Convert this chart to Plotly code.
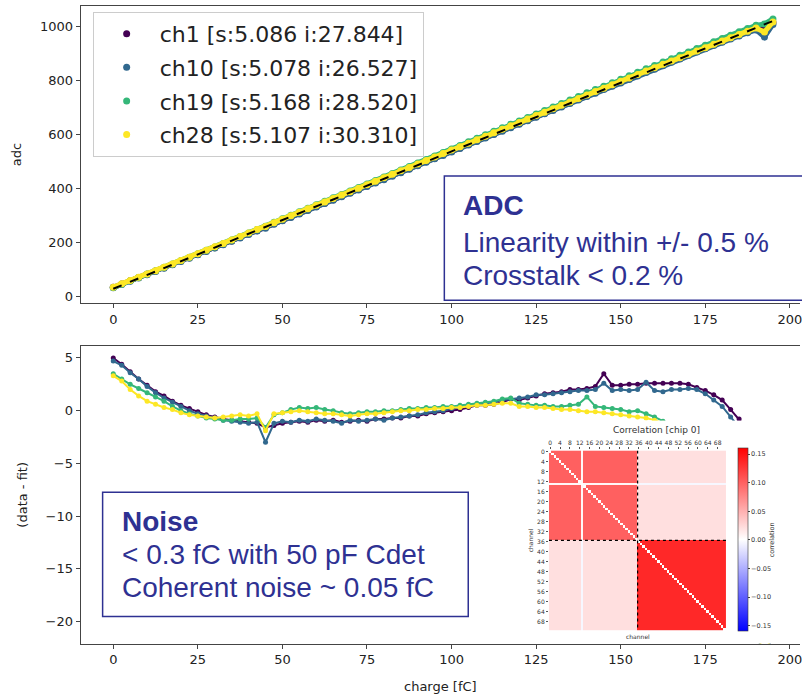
import numpy as np
import plotly.graph_objects as go

# ---------------- data ----------------
charge = np.arange(0, 195.01, 2.5)  # fC, sampling grid (79 points)

labels = ["ch1 [s:5.086 i:27.844]", "ch10 [s:5.078 i:26.527]",
          "ch19 [s:5.168 i:28.520]", "ch28 [s:5.107 i:30.310]"]
slopes = [5.086, 5.078, 5.168, 5.107]
intercepts = [27.844, 26.527, 28.520, 30.310]
colors = ["#440154", "#31688e", "#35b779", "#fde725"]

# residuals (data - fit), one value per charge step
res_ch1 = [5.0, 4.4, 3.7, 3.0, 2.4, 1.8, 1.4, 0.9, 0.5, 0.2,
           -0.1, -0.4, -0.6, -0.8, -0.9, -1.0, -1.1, -1.2, -1.6, -1.4,
           -1.2, -1.1, -1.0, -1.1, -0.9, -1.0, -0.9, -1.1, -1.0, -0.9,
           -1.0, -0.8, -0.8, -0.7, -0.7, -0.5, -0.5, -0.3, -0.2, -0.1,
           0.0, 0.1, 0.3, 0.5, 0.5, 0.6, 0.8, 1.1, 1.0, 1.2,
           1.4, 1.6, 1.7, 1.8, 2.0, 2.0, 2.1, 2.3, 3.5, 2.4,
           2.4, 2.5, 2.5, 2.6, 2.6, 2.6, 2.6, 2.6, 2.5, 2.2,
           1.9, 1.5, 1.0, 0.1, -0.8, -1.8, -3.5, -8.0, -6.0]
res_ch10 = [4.7, 4.3, 3.6, 3.0, 2.3, 1.7, 1.2, 0.8, 0.4, 0.0,
            -0.3, -0.5, -0.7, -0.9, -1.0, -1.1, -1.2, -1.1, -3.0, -1.2,
            -1.0, -1.1, -0.9, -1.0, -0.8, -0.9, -1.0, -1.2, -0.9, -1.0,
            -0.9, -0.8, -0.9, -0.7, -0.6, -0.5, -0.4, -0.2, -0.1, 0.0,
            0.2, 0.3, 0.5, 0.6, 0.7, 0.8, 1.0, 1.1, 1.2, 1.3,
            1.5, 1.5, 1.6, 1.7, 1.8, 1.9, 1.9, 2.0, 2.6, 1.9,
            2.0, 1.9, 2.0, 2.7, 1.9, 1.8, 2.0, 2.0, 2.1, 2.0,
            1.6, 1.0, 0.4, -0.6, -1.6, -3.0, -5.0, -44.0, -10.0]
res_ch19 = [3.5, 3.0, 2.5, 2.1, 1.7, 1.3, 0.9, 0.4, 0.0, -0.3,
            -0.5, -0.7, -0.8, -0.9, -0.9, -0.8, -0.8, -0.7, -1.6, -0.4,
            -0.2, 0.1, 0.3, 0.2, 0.3, 0.1, 0.0, -0.2, -0.3, -0.2,
            -0.1, -0.1, 0.0, 0.0, 0.1, 0.2, 0.2, 0.3, 0.3, 0.4,
            0.4, 0.5, 0.6, 0.7, 0.8, 0.9, 1.1, 1.2, 0.7, 0.6,
            0.5, 0.5, 0.4, 0.4, 0.5, 0.6, 1.3, 0.4, 0.3, 0.2,
            0.1, -0.1, 0.0, -0.3, -0.6, -1.0, -1.4, -1.8, -2.2, -2.6,
            -3.0, -3.5, -4.0, -4.6, -5.2, -6.0, -7.0, -15.0, -9.0]
res_ch28 = [3.3, 2.8, 2.0, 1.4, 0.9, 0.6, 0.3, 0.1, -0.2, -0.4,
            -0.5, -0.6, -0.7, -0.6, -0.5, -0.4, -0.5, -0.3, -1.9, -0.3,
            -0.2, -0.1, 0.0, -0.1, -0.2, -0.3, -0.3, -0.4, -0.5, -0.4,
            -0.3, -0.3, -0.2, -0.1, 0.0, 0.0, 0.1, 0.1, 0.2, 0.2,
            0.3, 0.3, 0.4, 0.5, 0.5, 0.6, 0.7, 0.7, 0.4, 0.4,
            0.3, 0.3, 0.2, 0.1, 0.1, 0.0, -0.1, -0.1, -0.2, -0.3,
            -0.4, -0.5, -0.6, -0.7, -0.9, -1.2, -1.6, -2.0, -2.4, -2.8,
            -3.2, -3.7, -4.2, -4.8, -5.4, -6.2, -7.5, -35.0, -10.0]
residuals = [res_ch1, res_ch10, res_ch19, res_ch28]

fit_range = [0, 195]

x_ticks = [0, 25, 50, 75, 100, 125, 150, 175, 200]
adc_ticks = [0, 200, 400, 600, 800, 1000]
res_ticks = [-20, -15, -10, -5, 0, 5]

# correlation inset (chip 0): block levels
n_channels = 72
half = 36
dead_channel = 13
level_first_half = 0.10
level_second_half = 0.135
level_cross = 0.02
level_dead_in = 0.005
level_dead_cross = -0.005
corr_ticks = list(range(0, 69, 4))
cbar_ticks = [-0.15, -0.10, -0.05, 0.0, 0.05, 0.10, 0.15]
cbar_text = ["\u22120.15", "\u22120.10", "\u22120.05", "0.00", "0.05", "0.10", "0.15"]

adc_box_lines = ["<b>ADC</b>", "Linearity within +/- 0.5 %", "Crosstalk < 0.2 %"]
noise_box_lines = ["<b>Noise</b>", "< 0.3 fC with 50 pF Cdet", "Coherent noise ~ 0.05 fC"]

# ---------------- build ----------------
ch = np.arange(n_channels)
first = ch < half
z = np.full((n_channels, n_channels), level_cross)
z[np.ix_(first, first)] = level_first_half
z[np.ix_(~first, ~first)] = level_second_half
z[dead_channel, :] = np.where(first, level_dead_in, level_dead_cross)
z[:, dead_channel] = np.where(first, level_dead_in, level_dead_cross)
zl = [[None if i == j else float(z[i, j]) for j in range(n_channels)] for i in range(n_channels)]

FONT = "DejaVu Sans"
AX = "#444444"
TXT = "#222222"
BLUE = "#2e3192"

fig = go.Figure()

for k in range(4):
    adc = slopes[k] * charge + intercepts[k] + np.array(residuals[k])
    fig.add_trace(go.Scatter(x=charge, y=adc, mode="lines+markers",
                             line=dict(color=colors[k], width=5),
                             marker=dict(color=colors[k], size=7),
                             showlegend=False, hoverinfo="skip",
                             xaxis="x", yaxis="y"))

fig.add_trace(go.Scatter(x=fit_range, y=[slopes[0] * q + intercepts[0] for q in fit_range],
                         mode="lines", line=dict(color="black", width=2, dash="dash"),
                         showlegend=False, xaxis="x", yaxis="y"))

for k in range(4):
    fig.add_trace(go.Scatter(x=[None], y=[None], mode="markers",
                             marker=dict(color=colors[k], size=7),
                             name=labels[k], legendgroup="g%d" % k,
                             xaxis="x", yaxis="y"))

for k in range(4):
    fig.add_trace(go.Scatter(x=charge, y=residuals[k], mode="lines+markers",
                             line=dict(color=colors[k], width=2),
                             marker=dict(color=colors[k], size=5),
                             showlegend=False, hoverinfo="skip",
                             xaxis="x2", yaxis="y2"))

# white backdrop subplot for the inset
fig.add_trace(go.Scatter(x=[None], y=[None], showlegend=False, xaxis="x3", yaxis="y3"))

bwr = [[0, "rgb(0,0,255)"], [0.5, "rgb(255,255,255)"], [1, "rgb(255,0,0)"]]
fig.add_trace(go.Heatmap(z=zl, x=ch, y=ch, xaxis="x4", yaxis="y4",
                         colorscale=bwr, zmin=-0.16, zmax=0.16,
                         colorbar=dict(x=740 / 802, xanchor="left", y=1 - 540 / 698,
                                       yanchor="middle", len=184 / 698, lenmode="fraction",
                                       thickness=10, xpad=0, ypad=0,
                                       tickvals=cbar_ticks, ticktext=cbar_text,
                                       tickfont=dict(size=6.5, color="#333", family=FONT),
                                       ticks="outside", ticklen=2, outlinewidth=0.6,
                                       outlinecolor="#333",
                                       title=dict(text="correlation", side="right",
                                                  font=dict(size=6.5, color="#333", family=FONT)))))

common = dict(showgrid=False, zeroline=False, showline=True, linecolor=AX, linewidth=1.2,
              ticks="outside", ticklen=4, tickcolor=AX, ticklabeloverflow="allow",
              tickfont=dict(family=FONT, size=13, color=TXT))

fig.update_layout(
    width=802, height=698, margin=dict(l=0, r=0, t=0, b=0),
    paper_bgcolor="white", plot_bgcolor="white",
    font=dict(family=FONT, color=TXT),
    xaxis=dict(domain=[80 / 802, 1], range=[-9.63, 203.0], anchor="y", mirror=True,
               tickvals=x_ticks, **common),
    yaxis=dict(domain=[1 - 301.7 / 698, 1 - 3.3 / 698], range=[-25, 1074], anchor="x",
               tickvals=adc_ticks, title=dict(text="adc", font=dict(size=13, family=FONT)),
               **common),
    xaxis2=dict(domain=[80 / 802, 1], range=[-9.63, 203.0], anchor="y2", mirror=True,
                tickvals=x_ticks, title=dict(text="charge [fC]", font=dict(size=13, family=FONT)),
                **common),
    yaxis2=dict(domain=[1 - 644.3 / 698, 1 - 345 / 698], range=[-22.1, 6.13], anchor="x2",
                tickvals=res_ticks, title=dict(text="(data - fit)", font=dict(size=13, family=FONT)),
                **common),
    xaxis3=dict(domain=[518 / 802, 801 / 802], range=[0, 1], anchor="y3", visible=False),
    yaxis3=dict(domain=[1 - 644 / 698, 1 - 420 / 698], range=[0, 1], anchor="x3", visible=False),
    xaxis4=dict(domain=[550 / 802, 728 / 802], range=[-0.5, n_channels - 0.5], anchor="y4",
                side="top", tickvals=corr_ticks, tickangle=0, showgrid=False, zeroline=False,
                ticks="outside", ticklen=2, tickcolor="#555",
                tickfont=dict(size=6, color="#333", family=FONT)),
    yaxis4=dict(domain=[1 - 631 / 698, 1 - 450 / 698], range=[n_channels - 0.5, -0.5], anchor="x4",
                tickvals=corr_ticks, showgrid=False, zeroline=False,
                ticks="outside", ticklen=2, tickcolor="#555",
                tickfont=dict(size=6, color="#333", family=FONT),
                title=dict(text="channel", font=dict(size=6, color="#333", family=FONT), standoff=2)),
    legend=dict(x=92 / 802, y=1 - 9 / 698, xanchor="left", yanchor="top",
                bgcolor="rgba(255,255,255,0.85)", bordercolor="#cccccc", borderwidth=1,
                font=dict(family=FONT, size=22, color=TXT), tracegroupgap=2,
                itemwidth=56),
    showlegend=True,
)

# block separators in the inset
for shp in [dict(x0=half - 0.5, x1=half - 0.5, y0=-0.5, y1=n_channels - 0.5),
            dict(x0=-0.5, x1=n_channels - 0.5, y0=half - 0.5, y1=half - 0.5)]:
    fig.add_shape(type="line", xref="x4", yref="y4", line=dict(color="black", width=1.2, dash="dot"), **shp)

# text boxes
fig.add_shape(type="rect", xref="paper", yref="paper", x0=445 / 802, x1=1.02,
              y0=1 - 299 / 698, y1=1 - 174 / 698, line=dict(color=BLUE, width=1.5),
              fillcolor="white")
fig.add_shape(type="rect", xref="paper", yref="paper", x0=102 / 802, x1=469 / 802,
              y0=1 - 617 / 698, y1=1 - 492 / 698, line=dict(color=BLUE, width=1.5),
              fillcolor="white")

BOXFONT = dict(family="Liberation Sans", size=28, color=BLUE)
for line, yc in zip(adc_box_lines, [204, 240.5, 274.5]):
    fig.add_annotation(xref="paper", yref="paper", x=462 / 802, y=1 - yc / 698,
                       xanchor="left", yanchor="middle", align="left", showarrow=False,
                       text=line, font=BOXFONT)
for line, yc in zip(noise_box_lines, [521, 555, 588]):
    fig.add_annotation(xref="paper", yref="paper", x=119 / 802, y=1 - yc / 698,
                       xanchor="left", yanchor="middle", align="left", showarrow=False,
                       text=line, font=BOXFONT)

fig.add_annotation(xref="paper", yref="paper", x=658 / 802, y=1 - 429 / 698,
                   xanchor="center", yanchor="middle", showarrow=False,
                   text="Correlation [chip 0]", font=dict(size=9, color="#333", family=FONT))
fig.add_annotation(xref="paper", yref="paper", x=639 / 802, y=1 - 637 / 698,
                   xanchor="center", yanchor="middle", showarrow=False,
                   text="channel", font=dict(size=6, color="#333", family=FONT))

fig.write_html("out.html")
